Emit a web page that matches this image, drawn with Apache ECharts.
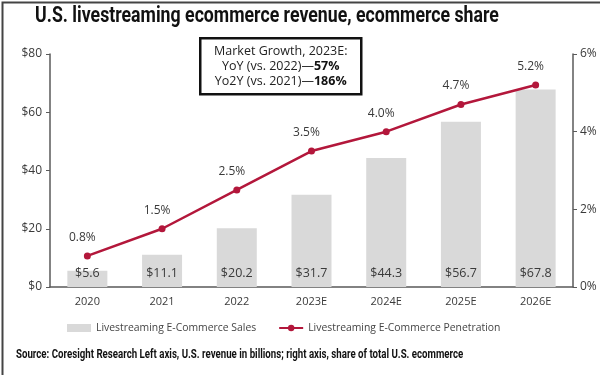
<!DOCTYPE html>
<html>
<head>
<meta charset="utf-8">
<script src="https://cdn.jsdelivr.net/npm/echarts@6/dist/echarts.min.js"></script>
<style>
	html, body { margin: 0; padding: 0; background: #fff; }
	#chart { width: 600px; height: 375px; }
</style>
</head>
<body>
<div id="chart"></div>
<script>
var years = ['2020', '2021', '2022', '2023E', '2024E', '2025E', '2026E'];
var salesValues = [5.6, 11.1, 20.2, 31.7, 44.3, 56.7, 67.8];
var penetrationValues = [0.8, 1.5, 2.5, 3.5, 4.0, 4.7, 5.2];
var leftTicks = ['$0', '$20', '$40', '$60', '$80'];
var rightTicks = ['0%', '2%', '4%', '6%'];

var axisColor = '#5a5a5a';
var textColor = '#3a3a3a';
var lineColor = '#b3173b';
var barColor = '#d9d9d9';
var labelFont = 'Open Sans';

var myChart = echarts.init(document.getElementById('chart'));
var option = {
	animation: false,
	backgroundColor: '#fff',
	grid: {
		left: 50,
		right: 27,
		top: 54,
		bottom: 88
	},
	legend: {
		bottom: 37,
		left: 62,
		itemGap: 22,
		itemWidth: 24,
		itemHeight: 8,
		textStyle: {
			color: '#444',
			fontFamily: labelFont,
			fontSize: 10.4
		},
		data: [
			{name: 'Livestreaming E-Commerce Sales', icon: 'rect'},
			{name: 'Livestreaming E-Commerce Penetration'}
		]
	},
	xAxis: {
		type: 'category',
		data: years,
		axisLine: {lineStyle: {color: axisColor, width: 1.5}},
		axisTick: {show: false},
		axisLabel: {
			color: textColor,
			fontFamily: labelFont,
			fontSize: 11,
			margin: 9
		}
	},
	yAxis: [{
		type: 'value',
		min: 0,
		max: 80,
		interval: 20,
		axisLine: {show: true, lineStyle: {color: axisColor, width: 1.5}},
		axisTick: {show: true, length: 4, lineStyle: {color: axisColor}},
		splitLine: {show: false},
		axisLabel: {
			color: textColor,
			fontFamily: labelFont,
			fontSize: 12,
			margin: 8,
			formatter: function (v) { return leftTicks[v / 20]; }
		}
	}, {
		type: 'value',
		min: 0,
		max: 6,
		interval: 2,
		position: 'right',
		axisLine: {show: true, lineStyle: {color: axisColor, width: 1.5}},
		axisTick: {show: true, length: 4, lineStyle: {color: axisColor}},
		splitLine: {show: false},
		axisLabel: {
			color: textColor,
			fontFamily: labelFont,
			fontSize: 12,
			margin: 7,
			formatter: function (v) { return rightTicks[v / 2]; }
		}
	}],
	series: [{
		name: 'Livestreaming E-Commerce Sales',
		type: 'bar',
		barWidth: 40,
		itemStyle: {color: barColor},
		label: {
			show: true,
			position: 'insideBottom',
			distance: 7,
			color: textColor,
			fontFamily: labelFont,
			fontSize: 12.5,
			formatter: function (p) { return '$' + p.value; }
		},
		data: salesValues
	}, {
		name: 'Livestreaming E-Commerce Penetration',
		type: 'line',
		yAxisIndex: 1,
		symbol: 'circle',
		symbolSize: 7,
		lineStyle: {color: lineColor, width: 2.5},
		itemStyle: {color: lineColor},
		label: {
			show: true,
			position: 'top',
			distance: 9,
			offset: [-5, 0],
			color: textColor,
			fontFamily: labelFont,
			fontSize: 12,
			formatter: function (p) { return p.value.toFixed(1) + '%'; }
		},
		data: penetrationValues
	}],
	graphic: [{
		type: 'rect',
		left: 0,
		top: 0,
		shape: {width: 599, height: 374},
		style: {fill: 'none', stroke: '#444', lineWidth: 2}
	}, {
		type: 'text',
		x: 267,
		y: 5,
		scaleX: 0.805,
		style: {
			text: 'U.S. livestreaming ecommerce revenue, ecommerce share',
			align: 'center',
			font: 'bold 22px Roboto',
			fill: '#111'
		}
	}, {
		type: 'group',
		left: 199,
		top: 37,
		children: [{
			type: 'rect',
			shape: {x: 0, y: 0, width: 161, height: 56},
			style: {fill: '#fff', stroke: '#111', lineWidth: 2.5}
		}, {
			type: 'text',
			x: 80.5,
			y: 28,
			style: {
				text: 'Market Growth, 2023E:\nYoY (vs. 2022)—{b|57%}\nYo2Y (vs. 2021)—{b|186%}',
				align: 'center',
				verticalAlign: 'middle',
				fontFamily: labelFont,
				fontSize: 12.5,
				lineHeight: 15,
				fill: '#222',
				rich: {
					b: {fontFamily: labelFont, fontSize: 12.5, fontWeight: 'bold', fill: '#111'}
				}
			}
		}]
	}, {
		type: 'text',
		x: 16,
		y: 348,
		scaleX: 0.775,
		style: {
			text: 'Source: Coresight Research Left axis, U.S. revenue in billions; right axis, share of total U.S. ecommerce',
			font: 'bold 12.5px Roboto',
			fill: '#111'
		}
	}]
};
myChart.setOption(option);
</script>
</body>
</html>
